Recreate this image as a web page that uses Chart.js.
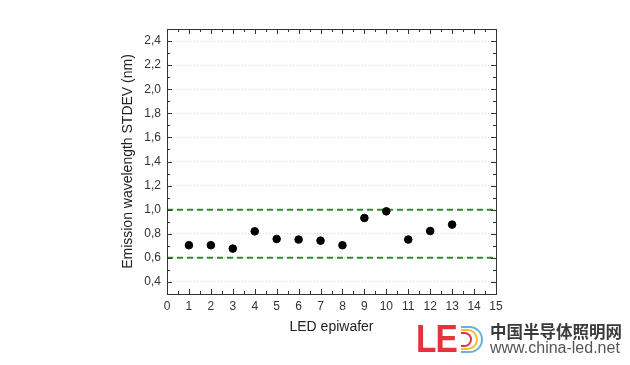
<!DOCTYPE html>
<html>
<head>
<meta charset="utf-8">
<script src="https://cdn.jsdelivr.net/npm/chart.js@4/dist/chart.umd.min.js"></script>
<style>
  body { margin: 0; background: #fff; }
  #wrap { position: relative; width: 630px; height: 365px; }
  #c { position: absolute; left: 0; top: 0; }
  .logo { position: absolute; font-family: "Liberation Sans", Arial, sans-serif; }
  #le { left: 416px; top: 319px; font-size: 38px; font-weight: bold; color: #e3343e; letter-spacing: -1px; line-height: 40px; transform: scaleX(0.88); transform-origin: left; }
  .arc { position: absolute; border-style: solid; border-left: none; border-radius: 0 30px 30px 0; }
  #cn { left: 490px; top: 321px; font-family: "Noto Sans CJK SC", sans-serif; font-size: 16.5px; font-weight: bold; color: #3a3a3a; line-height: 20px; }
  #url { left: 490px; top: 339px; font-size: 16px; color: #555; line-height: 18px; }
</style>
</head>
<body>
<div id="wrap">
  <canvas id="c" width="630" height="365"></canvas>
  <div class="logo" id="le">LE</div>
  <div class="arc" style="left:461px;top:326px;width:20px;height:23px;border-width:2px;border-color:#6ab0e0;"></div>
  <div class="arc" style="left:461px;top:329px;width:15px;height:17px;border-width:2px;border-color:#f2c22e;"></div>
  <div class="arc" style="left:461px;top:332px;width:9px;height:11px;border-width:2px;border-color:#e3343e;"></div>
  <div class="logo" id="cn">中国半导体照明网</div>
  <div class="logo" id="url">www.china-led.net</div>
</div>
<script>
// epiwafer number and emission wavelength STDEV (nm)
const wafers = [1, 2, 3, 4, 5, 6, 7, 8, 9, 10, 11, 12, 13];
const stdev = [0.705, 0.705, 0.677, 0.82, 0.757, 0.752, 0.743, 0.705, 0.931, 0.986, 0.752, 0.823, 0.876];
const limitHigh = 1.0;
const limitLow = 0.6;
const xTicks = [0, 1, 2, 3, 4, 5, 6, 7, 8, 9, 10, 11, 12, 13, 14, 15];
const yTicks = [0.4, 0.6, 0.8, 1.0, 1.2, 1.4, 1.6, 1.8, 2.0, 2.2, 2.4];

const points = wafers.map((w, i) => ({ x: w, y: stdev[i] }));
const fmt = v => v.toFixed(1).replace('.', ',');

// frame + inward ticks on all four sides (origin style)
const frame = {
  id: 'frame',
  afterDraw(chart) {
    const ctx = chart.ctx, a = chart.chartArea;
    const xs = chart.scales.x, ys = chart.scales.y;
    ctx.save();
    ctx.strokeStyle = '#333';
    ctx.lineWidth = 1;
    ctx.strokeRect(a.left + 0.5, a.top + 0.5, a.right - a.left, a.bottom - a.top);
    ctx.beginPath();
    for (let v = 0; v <= 15; v += 0.5) {
      const px = Math.round(xs.getPixelForValue(v)) + 0.5;
      const len = Number.isInteger(v) ? 5 : 3;
      ctx.moveTo(px, a.bottom); ctx.lineTo(px, a.bottom - len);
      ctx.moveTo(px, a.top); ctx.lineTo(px, a.top + len);
    }
    for (let k = 3; k <= 25; k++) {
      const v = k / 10;
      const py = Math.round(ys.getPixelForValue(v)) + 0.5;
      const len = k % 2 === 0 ? 5 : 3;
      ctx.moveTo(a.left, py); ctx.lineTo(a.left + len, py);
      ctx.moveTo(a.right, py); ctx.lineTo(a.right - len, py);
    }
    ctx.stroke();
    ctx.restore();
  }
};

new Chart(document.getElementById('c'), {
  type: 'scatter',
  data: {
    datasets: [{
      data: points,
      backgroundColor: '#000',
      borderColor: '#000',
      pointRadius: 3.8,
      pointHoverRadius: 3.8
    }, {
      type: 'line',
      data: [{ x: 0, y: limitHigh }, { x: 15, y: limitHigh }],
      borderColor: '#2e8b2e',
      borderWidth: 2,
      borderDash: [6, 4],
      pointRadius: 0
    }, {
      type: 'line',
      data: [{ x: 0, y: limitLow }, { x: 15, y: limitLow }],
      borderColor: '#2e8b2e',
      borderWidth: 2,
      borderDash: [6, 4],
      pointRadius: 0
    }]
  },
  options: {
    responsive: false,
    animation: false,
    layout: { padding: { left: 116, top: 29, right: 134, bottom: 25 } },
    plugins: { legend: { display: false }, tooltip: { enabled: false } },
    scales: {
      x: {
        type: 'linear',
        min: 0, max: 15,
        afterBuildTicks: s => { s.ticks = xTicks.map(v => ({ value: v })); },
        afterFit: s => { s.height = 46; },
        ticks: { color: '#333', padding: 5, font: { family: 'Liberation Sans', size: 12 }, callback: v => String(v) },
        grid: { display: false, drawTicks: false },
        border: { display: false },
        title: { display: true, text: 'LED epiwafer', color: '#222', font: { family: 'Liberation Sans', size: 14 } }
      },
      y: {
        type: 'linear',
        min: 0.3, max: 2.5,
        afterBuildTicks: s => { s.ticks = yTicks.map(v => ({ value: v })); },
        afterFit: s => { s.width = 51; },
        ticks: { color: '#333', padding: 6, font: { family: 'Liberation Sans', size: 12 }, callback: v => fmt(v) },
        grid: { drawTicks: false, color: '#d4d4d4', lineWidth: 1 },
        border: { display: false, dash: [1, 2] },
        title: { display: true, text: 'Emission wavelength STDEV (nm)', color: '#222', font: { family: 'Liberation Sans', size: 14 } }
      }
    }
  },
  plugins: [frame]
});
</script>
</body>
</html>
